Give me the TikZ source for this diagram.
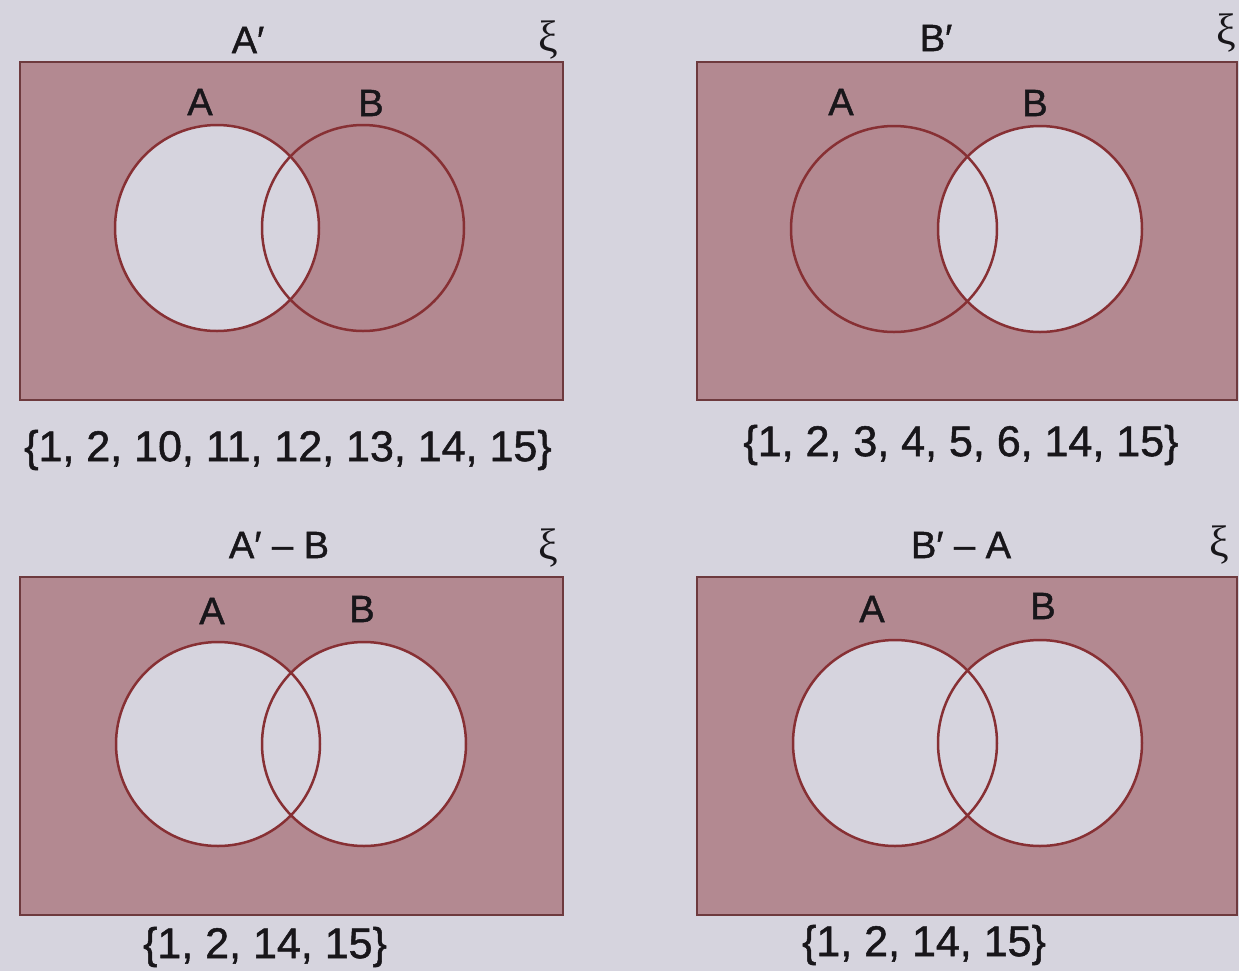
\documentclass[tikz,border=0pt]{standalone}
\usepackage{fontspec}
\setmainfont{Liberation Sans}[FakeBold=1.2]
\newfontfamily\xifont{Liberation Serif}
\definecolor{bgc}{RGB}{214,212,222}
\definecolor{shadec}{RGB}{179,137,145}
\definecolor{linec}{RGB}{135,48,52}
\definecolor{framec}{RGB}{110,58,62}
\definecolor{txtc}{RGB}{24,22,26}
\tikzset{
  shadefill/.style={fill=shadec},
  blankfill/.style={fill=bgc},
  setline/.style={draw=linec, line width=1.25pt},
  framebox/.style={draw=framec, line width=1pt},
  lab/.style={text=txtc, font=\fontsize{19}{22}\selectfont, inner sep=0pt},
  setcaption/.style={text=txtc, font=\fontsize{21.5}{25}\selectfont, inner sep=0pt},
  xilab/.style={text=txtc, font=\xifont\fontsize{22}{26}\selectfont, inner sep=0pt}
}
\begin{document}
\begin{tikzpicture}[x=0.5pt,y=-0.5pt]
\fill[bgc] (0,0) rectangle (1239,971);
\useasboundingbox (0,0) rectangle (1239,971);

% ---------- Panel 1: A'
\fill[shadefill] (20,62) rectangle (563,400);
\fill[blankfill] (217,228) ellipse [x radius=51pt, y radius=51.5pt];
\draw[setline] (217,228) ellipse [x radius=51pt, y radius=51.5pt];
\draw[setline] (363,228) ellipse [x radius=50.5pt, y radius=51.5pt];
\draw[framebox] (20,62) rectangle (563,400);
\node[lab] (t1) at (248,40) {A′};
\node[xilab] (x1) at (548,40) {ξ};
\node[lab] (a1) at (200,102) {A};
\node[lab] (b1) at (371,103) {B};
\node[setcaption] (c1) at (288,450) {\{1, 2, 10, 11, 12, 13, 14, 15\}};

% ---------- Panel 2: B'
\fill[shadefill] (697,62) rectangle (1237,400);
\fill[blankfill] (1040,229) ellipse [x radius=51pt, y radius=51.5pt];
\draw[setline] (894,229) ellipse [x radius=51.5pt, y radius=51.5pt];
\draw[setline] (1040,229) ellipse [x radius=51pt, y radius=51.5pt];
\draw[framebox] (697,62) rectangle (1237,400);
\node[lab] (t2) at (936,38) {B′};
\node[xilab] (x2) at (1226,33) {ξ};
\node[lab] (a2) at (841,102) {A};
\node[lab] (b2) at (1035,103) {B};
\node[setcaption] (c2) at (961,445) {\{1, 2, 3, 4, 5, 6, 14, 15\}};

% ---------- Panel 3: A' - B
\fill[shadefill] (20,577) rectangle (563,915);
\fill[blankfill] (218,744) ellipse [x radius=51pt, y radius=51pt];
\fill[blankfill] (364,744) ellipse [x radius=51pt, y radius=51pt];
\draw[setline] (218,744) ellipse [x radius=51pt, y radius=51pt];
\draw[setline] (364,744) ellipse [x radius=51pt, y radius=51pt];
\draw[framebox] (20,577) rectangle (563,915);
\node[lab] (t3) at (279,545) {A′ – B};
\node[xilab] (x3) at (548,548) {ξ};
\node[lab] (a3) at (212,611) {A};
\node[lab] (b3) at (362,609) {B};
\node[setcaption] (c3) at (265,947) {\{1, 2, 14, 15\}};

% ---------- Panel 4: B' - A
\fill[shadefill] (697,577) rectangle (1237,915);
\fill[blankfill] (895,743) ellipse [x radius=51pt, y radius=51.5pt];
\fill[blankfill] (1040,743) ellipse [x radius=51pt, y radius=51.5pt];
\draw[setline] (895,743) ellipse [x radius=51pt, y radius=51.5pt];
\draw[setline] (1040,743) ellipse [x radius=51pt, y radius=51.5pt];
\draw[framebox] (697,577) rectangle (1237,915);
\node[lab] (t4) at (961,545) {B′ – A};
\node[xilab] (x4) at (1219,545) {ξ};
\node[lab] (a4) at (872,609) {A};
\node[lab] (b4) at (1043,606) {B};
\node[setcaption] (c4) at (924,945) {\{1, 2, 14, 15\}};
\end{tikzpicture}
\end{document}
